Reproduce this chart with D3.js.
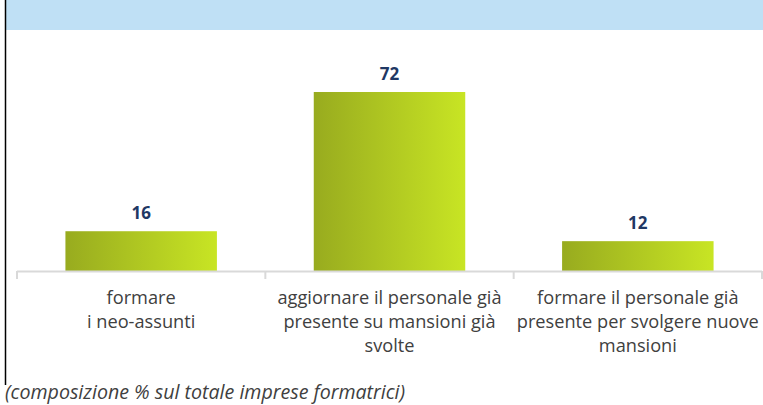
<!DOCTYPE html>
<html>
<head>
<meta charset="utf-8">
<style>
  body { margin: 0; background: #fff; }
  svg { display: block; font-family: "Open Sans", "Noto Sans", sans-serif; }
</style>
</head>
<body>
<div id="chart"></div>
<script src="https://d3js.org/d3.v7.min.js"></script>
<script>
var categories = [
  ["formare", "i neo-assunti"],
  ["aggiornare il personale già", "presente su mansioni già", "svolte"],
  ["formare il personale già", "presente per svolgere nuove", "mansioni"]
];
var values = [16, 72, 12];
var caption = "(composizione % sul totale imprese formatrici)";

var width = 763, height = 405;
var svg = d3.select("#chart").append("svg")
    .attr("width", width)
    .attr("height", height);

// gradient for the bars
var grad = svg.append("defs").append("linearGradient")
    .attr("id", "barGrad")
    .attr("x1", "0%").attr("x2", "100%").attr("y1", "0%").attr("y2", "0%");
grad.append("stop").attr("offset", "0%").attr("stop-color", "#98ab1f");
grad.append("stop").attr("offset", "100%").attr("stop-color", "#c8e524");

// header band and left frame
svg.append("rect")
    .attr("x", 6).attr("y", 0)
    .attr("width", width - 6).attr("height", 30)
    .attr("fill", "#bfe0f5");
svg.append("line")
    .attr("x1", 5.5).attr("x2", 5.5)
    .attr("y1", 0).attr("y2", 385)
    .attr("stroke", "#000").attr("stroke-width", 1.5);

var x0 = 17, x1 = 762, base = 271;

var x = d3.scaleBand()
    .domain(d3.range(values.length))
    .range([x0, x1])
    .paddingInner(0.39)
    .paddingOuter(0.195);

var y = d3.scaleLinear()
    .domain([0, 80])
    .range([base, base - 80 * 2.486]);

svg.selectAll(".bar")
    .data(values)
    .enter()
    .append("rect")
    .attr("class", "bar")
    .attr("x", function(d, i) { return x(i); })
    .attr("width", x.bandwidth())
    .attr("y", function(d) { return y(d); })
    .attr("height", function(d) { return y(0) - y(d); })
    .attr("fill", "url(#barGrad)");

// axis line and tick separators
svg.append("line")
    .attr("x1", x0).attr("x2", x1)
    .attr("y1", base + 0.5).attr("y2", base + 0.5)
    .attr("stroke", "#d9d9d9").attr("stroke-width", 2);

var step = (x1 - x0) / values.length;
svg.selectAll(".tick")
    .data(d3.range(values.length + 1))
    .enter()
    .append("line")
    .attr("x1", function(d) { return x0 + d * step; })
    .attr("x2", function(d) { return x0 + d * step; })
    .attr("y1", base).attr("y2", base + 8)
    .attr("stroke", "#d9d9d9").attr("stroke-width", 2);

// value labels
svg.selectAll(".val")
    .data(values)
    .enter()
    .append("text")
    .attr("x", function(d, i) { return x(i) + x.bandwidth() / 2; })
    .attr("y", function(d) { return y(d) - 12; })
    .attr("text-anchor", "middle")
    .attr("font-size", 17)
    .attr("font-weight", "bold")
    .attr("fill", "#1f3864")
    .text(function(d) { return d; });

// category labels
var cat = svg.selectAll(".cat")
    .data(categories)
    .enter()
    .append("text")
    .attr("text-anchor", "middle")
    .attr("font-size", 18.2)
    .attr("fill", "#404040");
cat.selectAll("tspan")
    .data(function(d, i) { return d.map(function(s) { return { s: s, i: i }; }); })
    .enter()
    .append("tspan")
    .attr("x", function(d) { return x(d.i) + x.bandwidth() / 2; })
    .attr("y", function(d, j) { return 304 + j * 24; })
    .text(function(d) { return d.s; });

svg.append("text")
    .attr("x", 5)
    .attr("y", 399)
    .attr("font-size", 19.6)
    .attr("font-style", "italic")
    .attr("fill", "#404040")
    .text(caption);
</script>
</body>
</html>
